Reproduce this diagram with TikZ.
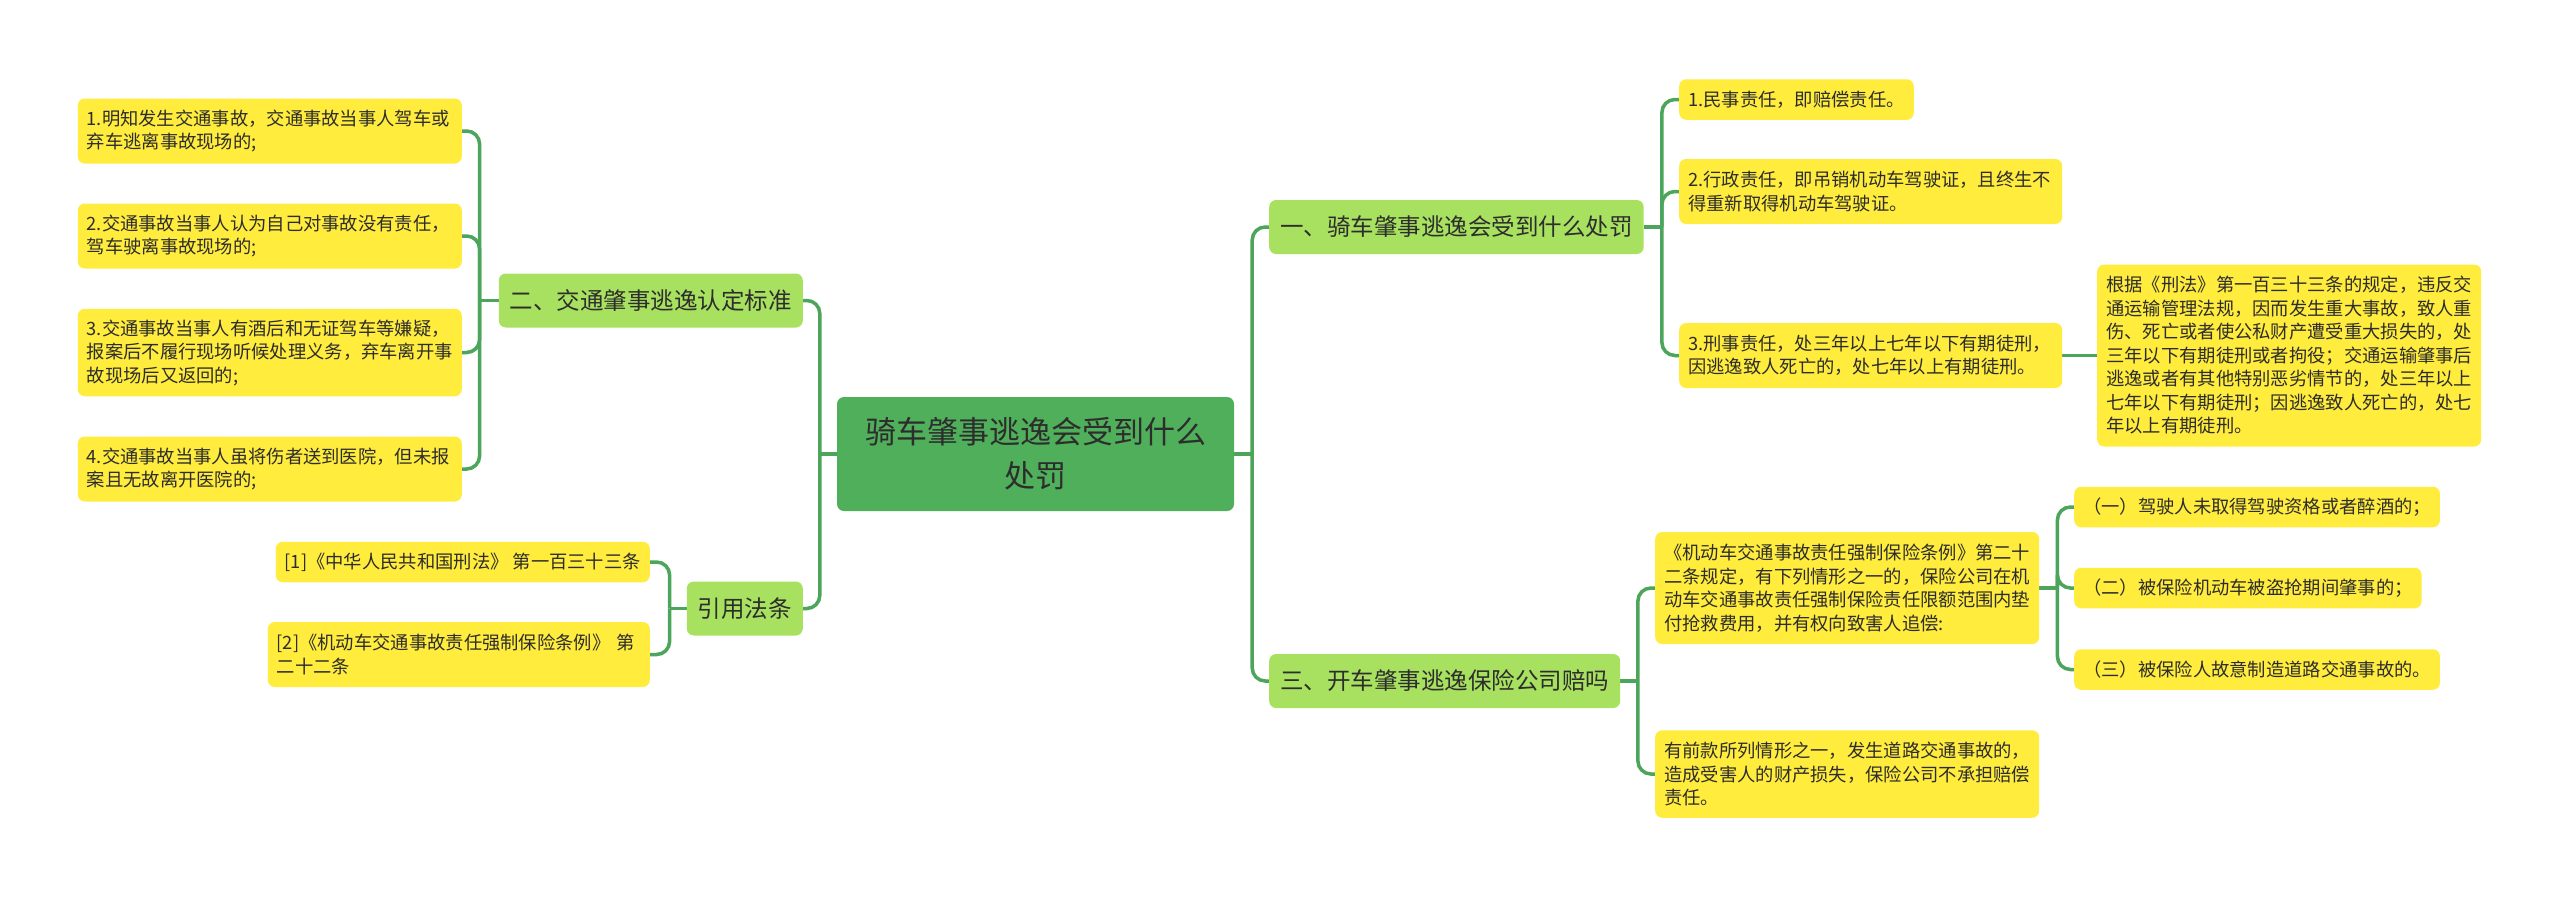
\documentclass[tikz,border=0pt]{standalone}
\usepackage{fontspec}
\setmainfont{Noto Sans CJK SC}
\usetikzlibrary{backgrounds}
\definecolor{rootfill}{RGB}{80,175,90}
\definecolor{lonefill}{RGB}{168,225,95}
\definecolor{leaffill}{RGB}{255,236,61}
\definecolor{linec}{RGB}{76,165,90}
\definecolor{txt}{RGB}{45,45,45}
\tikzset{
  box/.style={rectangle, rounded corners=7pt, text=txt, inner ysep=0pt},
  leafbox/.style={box, fill=leaffill, inner xsep=9pt, align=left,
    font=\fontsize{18.3pt}{23.5pt}\selectfont},
  lonebox/.style={box, fill=lonefill, inner xsep=11pt, minimum height=54pt,
    font=\fontsize{23.5pt}{28pt}\selectfont},
  rootbox/.style={box, fill=rootfill, minimum width=397pt, minimum height=114pt,
    align=center, font=\fontsize{31pt}{44pt}\selectfont},
  conn/.style={draw=linec, line width=3.5pt, rounded corners=13pt},
  oneline/.style={minimum height=40.5pt},
  twoline/.style={minimum height=65pt},
  threeline/.style={minimum height=87.5pt},
  fourline/.style={minimum height=112pt},
  sevenline/.style={minimum height=182pt}
}
\begin{document}
\begin{tikzpicture}[x=1pt,y=-1pt]
\useasboundingbox (0,0) rectangle (2560,897);

% root
\node[rootbox] (root) at (1035.5,454) {骑车肇事逃逸会受到什么\\处罚};

% level one
\node[lonebox, anchor=west] (n1) at (1269,227) {一、骑车肇事逃逸会受到什么处罚};
\node[lonebox, anchor=west] (n3) at (1269,681) {三、开车肇事逃逸保险公司赔吗};
\node[lonebox, anchor=east] (n2) at (803,300.5) {二、交通肇事逃逸认定标准};
\node[lonebox, anchor=east] (nref) at (803,608.5) {引用法条};

% right leaves of n1
\node[leafbox, oneline, anchor=west] (la) at (1679,99.5) {1.民事责任，即赔偿责任。};
\node[leafbox, twoline, anchor=west, text width=365pt] (lb) at (1679,191.5)
  {2.行政责任，即吊销机动车驾驶证，且终生不\\得重新取得机动车驾驶证。};
\node[leafbox, twoline, anchor=west, text width=365pt] (lc) at (1679,355.5)
  {3.刑事责任，处三年以上七年以下有期徒刑，\\因逃逸致人死亡的，处七年以上有期徒刑。};
\node[leafbox, sevenline, anchor=west, text width=366pt] (big) at (2097,355.5)
  {根据《刑法》第一百三十三条的规定，违反交\\通运输管理法规，因而发生重大事故，致人重\\伤、死亡或者使公私财产遭受重大损失的，处\\三年以下有期徒刑或者拘役；交通运输肇事后\\逃逸或者有其他特别恶劣情节的，处三年以上\\七年以下有期徒刑；因逃逸致人死亡的，处七\\年以上有期徒刑。};

% leaves of n3
\node[leafbox, fourline, anchor=west, text width=366pt] (ld) at (1655,588)
  {《机动车交通事故责任强制保险条例》第二十\\二条规定，有下列情形之一的，保险公司在机\\动车交通事故责任强制保险责任限额范围内垫\\付抢救费用，并有权向致害人追偿:};
\node[leafbox, threeline, anchor=west, text width=366pt] (le) at (1655,774)
  {有前款所列情形之一，发生道路交通事故的，\\造成受害人的财产损失，保险公司不承担赔偿\\责任。};
\node[leafbox, oneline, anchor=west] (lf) at (2074,507) {（一）驾驶人未取得驾驶资格或者醉酒的；};
\node[leafbox, oneline, anchor=west] (lg) at (2074,588) {（二）被保险机动车被盗抢期间肇事的；};
\node[leafbox, oneline, anchor=west] (lh) at (2074,669.5) {（三）被保险人故意制造道路交通事故的。};

% leaves of n2
\node[leafbox, twoline, anchor=east, text width=366pt] (l1) at (462,131)
  {1.明知发生交通事故，交通事故当事人驾车或\\弃车逃离事故现场的;};
\node[leafbox, twoline, anchor=east, text width=366pt] (l2) at (462,236)
  {2.交通事故当事人认为自己对事故没有责任，\\驾车驶离事故现场的;};
\node[leafbox, threeline, anchor=east, text width=366pt] (l3) at (462,352.5)
  {3.交通事故当事人有酒后和无证驾车等嫌疑，\\报案后不履行现场听候处理义务，弃车离开事\\故现场后又返回的;};
\node[leafbox, twoline, anchor=east, text width=366pt] (l4) at (462,469)
  {4.交通事故当事人虽将伤者送到医院，但未报\\案且无故离开医院的;};

% leaves of nref
\node[leafbox, oneline, anchor=east] (r1) at (650,562) {[1]《中华人民共和国刑法》 第一百三十三条};
\node[leafbox, twoline, anchor=east, text width=364pt] (r2) at (650,654.5)
  {[2]《机动车交通事故责任强制保险条例》 第\\二十二条};

% junctions
\coordinate (jr) at ([xshift=18pt]root.east);
\coordinate (jl) at ([xshift=-17pt]root.west);
\coordinate (j1) at ([xshift=18pt]n1.east);
\coordinate (j3) at ([xshift=17.5pt]n3.east);
\coordinate (jd) at ([xshift=18pt]ld.east);
\coordinate (j2) at ([xshift=-19pt]n2.west);
\coordinate (jref) at ([xshift=-17pt]nref.west);

\begin{scope}[on background layer]
\fill[white] (0,0) rectangle (2560,897);
\draw[conn] (root.east) -- (jr);
\draw[conn] (jr) |- (n1.west);
\draw[conn] (jr) |- (n3.west);
\draw[conn] (root.west) -- (jl);
\draw[conn] (jl) |- (n2.east);
\draw[conn] (jl) |- (nref.east);

\draw[conn] (n1.east) -- (j1);
\draw[conn] (j1) |- (la.west);
\draw[conn] (j1) |- (lb.west);
\draw[conn] (j1) |- (lc.west);
\draw[conn] (lc.east) -- (big.west);

\draw[conn] (n3.east) -- (j3);
\draw[conn] (j3) |- (ld.west);
\draw[conn] (j3) |- (le.west);
\draw[conn] (ld.east) -- (jd);
\draw[conn] (jd) |- (lf.west);
\draw[conn] (jd) |- (lg.west);
\draw[conn] (jd) |- (lh.west);

\draw[conn] (n2.west) -- (j2);
\draw[conn] (j2) |- (l1.east);
\draw[conn] (j2) |- (l2.east);
\draw[conn] (j2) |- (l3.east);
\draw[conn] (j2) |- (l4.east);

\draw[conn] (nref.west) -- (jref);
\draw[conn] (jref) |- (r1.east);
\draw[conn] (jref) |- (r2.east);
\end{scope}
\end{tikzpicture}
\end{document}
